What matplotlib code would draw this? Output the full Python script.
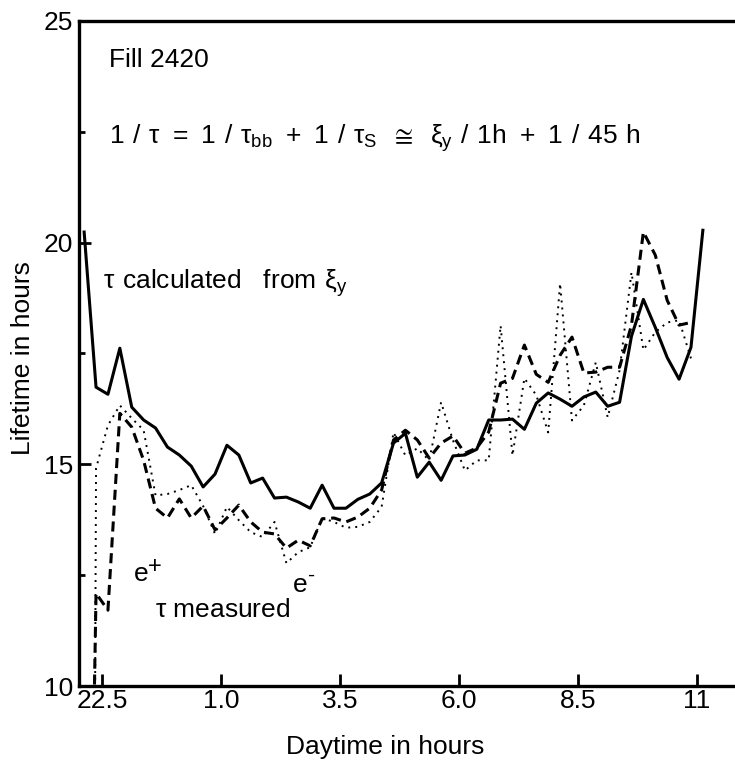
import matplotlib
matplotlib.use("Agg")
import matplotlib.pyplot as plt

plt.rcParams["font.family"] = ["Liberation Sans", "DejaVu Sans"]
plt.rcParams["mathtext.fontset"] = "custom"
plt.rcParams["mathtext.rm"] = "Liberation Sans"
plt.rcParams["mathtext.it"] = "Liberation Sans"
plt.rcParams["mathtext.bf"] = "Liberation Sans:bold"

# hours after midnight of the first day (24.0 = 0:00 next day)
hours = [22.125, 22.375, 22.625, 22.875, 23.125, 23.375, 23.625, 23.875,
         24.125, 24.375, 24.625, 24.875, 25.125, 25.375, 25.625, 25.875,
         26.125, 26.375, 26.625, 26.875, 27.125, 27.375, 27.625, 27.875,
         28.125, 28.375, 28.625, 28.875, 29.125, 29.375, 29.625, 29.875,
         30.125, 30.375, 30.625, 30.875, 31.125, 31.375, 31.625, 31.875,
         32.125, 32.375, 32.625, 32.875, 33.125, 33.375, 33.625, 33.875,
         34.125, 34.375, 34.625, 34.875, 35.125]

tau_calc = [20.24, 16.74, 16.58, 17.62, 16.29, 16.00, 15.82, 15.39, 15.21, 14.96,
            14.49, 14.78, 15.43, 15.21, 14.58, 14.69, 14.24, 14.26, 14.15, 14.01,
            14.53, 14.01, 14.01, 14.21, 14.33, 14.58, 15.48, 15.70, 14.71, 15.05,
            14.64, 15.19, 15.21, 15.34, 16.00, 16.00, 16.02, 15.79, 16.38, 16.61,
            16.47, 16.31, 16.52, 16.63, 16.31, 16.40, 17.89, 18.72, 18.09, 17.41,
            16.92, 17.64, 20.28]

# measured lifetimes start a little later, the first value is off scale
start_pos = [22.31]
start_neg = [22.34]
tau_pos = [8.0,
           12.09, 11.71, 16.15, 15.84, 15.09, 14.01, 13.79, 14.22, 13.79, 14.06,
           13.52, 13.79, 14.08, 13.70, 13.47, 13.43, 13.11, 13.29, 13.16, 13.77,
           13.79, 13.70, 13.81, 14.01, 14.42, 15.55, 15.77, 15.55, 15.14, 15.48,
           15.64, 15.25, 15.37, 15.73, 16.83, 16.94, 17.69, 17.03, 16.85, 17.46,
           17.87, 17.06, 17.08, 17.19, 17.19, 18.14, 20.24, 19.72, 18.70, 18.14,
           18.20]
tau_neg = [6.0,
           14.91, 15.88, 16.33, 16.04, 15.77, 14.30, 14.33, 14.42, 14.53, 14.06,
           13.43, 14.04, 13.74, 13.47, 13.36, 13.70, 12.77, 13.02, 13.13, 13.79,
           13.70, 13.57, 13.59, 13.70, 14.04, 15.72, 15.20, 15.36, 15.09, 16.40,
           15.54, 14.86, 15.09, 15.09, 18.13, 15.20, 16.94, 16.56, 15.72, 19.08,
           15.99, 16.33, 17.30, 16.06, 17.12, 19.33, 17.58, 17.98, 18.20, 18.25,
           17.39]

x_ticks = [22.5, 25.0, 27.5, 30.0, 32.5, 35.0]
x_tick_labels = ["22.5", "1.0", "3.5", "6.0", "8.5", "11"]
y_ticks = [10, 15, 20, 25]
y_minor = [12.5, 17.5, 22.5]

FS = 19
EN = "\u2002"   # wider spaces as in the original typesetting
TS = "\u2004"

fig = plt.figure(figsize=(7.35, 7.63), dpi=100)
ax = fig.add_axes([79 / 735, 77 / 763, 1 - 79 / 735, 665 / 763])

x_pos = start_pos + hours[1:len(tau_pos)]
x_neg = start_neg + hours[1:len(tau_neg)]

ax.plot(hours, tau_calc, color="black", lw=2.2)
ax.plot(x_pos, tau_pos, color="black", lw=2.2, dashes=(3.3, 1.9))
ax.plot(x_neg, tau_neg, color="black", lw=1.4, dashes=(1.0, 2.6))

ax.set_xlim(22.017, 35.80)
ax.set_ylim(10, 25)

ax.set_xticks(x_ticks)
ax.set_xticklabels(x_tick_labels)
ax.set_yticks(y_ticks)
ax.set_yticks(y_minor, minor=True)
ax.tick_params(axis="both", which="major", direction="in", length=8.5, width=2.0,
               labelsize=FS, color="black")
ax.tick_params(axis="y", which="minor", direction="in", length=4.5, width=2.0)
ax.tick_params(axis="x", which="major", pad=2)
ax.tick_params(axis="y", which="major", pad=4)

for side in ["left", "bottom", "top"]:
    ax.spines[side].set_linewidth(2.4)
ax.spines["right"].set_visible(False)

formula = (f"1{TS}/{TS}$\\tau${EN}={EN}1{TS}/{TS}$\\tau_{{\\rm bb}}${EN}+{EN}"
           f"1{TS}/{TS}$\\tau_{{\\rm S}}${EN}$\\cong${EN}$\\xi_{{\\rm y}}${TS}/{TS}1h"
           f"{EN}+{EN}1{TS}/{TS}45{TS}h")

ax.text(22.65, 24.11, "Fill 2420", fontsize=FS, ha="left", va="center")
ax.text(22.65, 22.35, formula, fontsize=FS, ha="left", va="center")
ax.text(22.52, 19.09, f"$\\tau${TS}calculated{EN}{TS}from{TS}$\\xi_{{\\rm y}}$",
        fontsize=FS, ha="left", va="center")
ax.text(23.17, 12.52, "e", fontsize=FS, ha="left", va="center")
ax.text(23.47, 12.68, "+", fontsize=FS * 0.9, ha="left", va="center")
ax.text(23.61, 11.71, r"$\tau$ measured", fontsize=FS, ha="left", va="center")
ax.text(26.51, 12.27, "e", fontsize=FS, ha="left", va="center")
ax.text(26.82, 12.50, "-", fontsize=FS * 0.8, ha="left", va="center")

fig.text(23 / 735, 1 - 358 / 763, "Lifetime in hours", fontsize=FS, rotation=90,
         ha="center", va="center")
fig.text(385 / 735, 1 - 747 / 763, "Daytime in hours", fontsize=FS,
         ha="center", va="center")

fig.savefig("out.png", dpi=100)
